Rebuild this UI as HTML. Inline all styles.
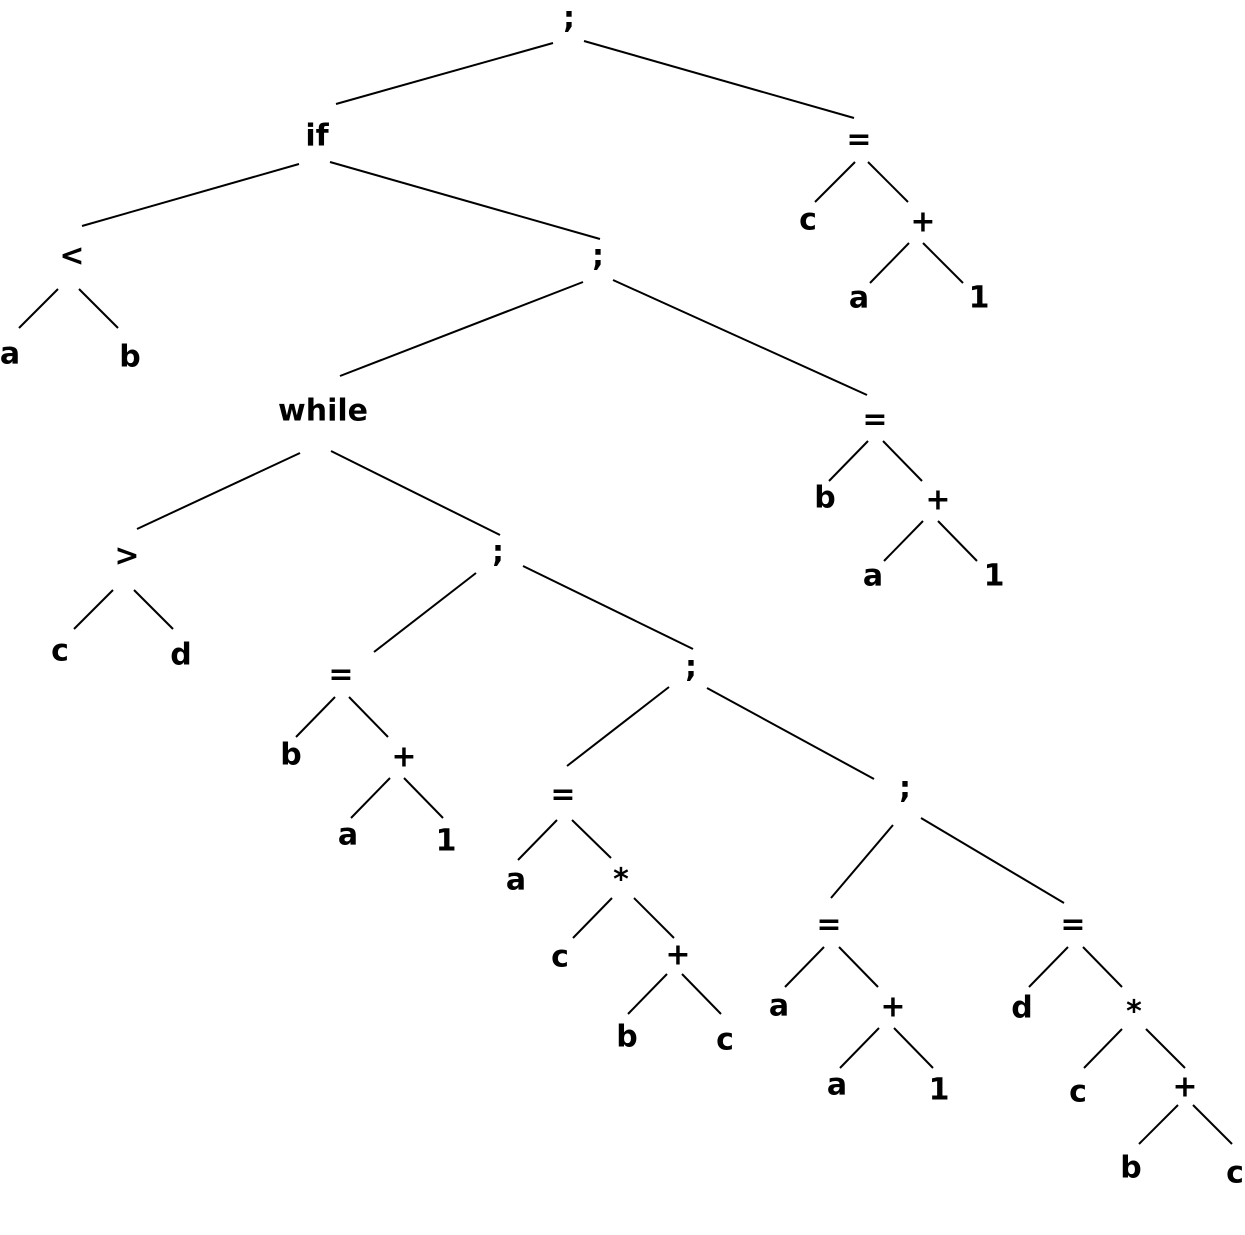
<!DOCTYPE html>
<html><head><meta charset="utf-8"><style>
html,body{margin:0;padding:0;background:#fff;}
svg{display:block;}
text{font-family:"DejaVu Sans","Liberation Sans",sans-serif;font-weight:bold;font-size:30px;fill:#000;}
line{stroke:#000;stroke-width:2;}
</style></head><body>
<svg width="1245" height="1235" viewBox="0 0 1245 1235" xmlns="http://www.w3.org/2000/svg">
<g>
<line x1="553" y1="43" x2="336" y2="104"/>
<line x1="584" y1="41" x2="854" y2="118"/>
<line x1="299" y1="164" x2="82" y2="226"/>
<line x1="330" y1="162" x2="600" y2="239"/>
<line x1="855" y1="162" x2="815" y2="202"/>
<line x1="868" y1="162" x2="908" y2="202"/>
<line x1="909" y1="243" x2="870" y2="283"/>
<line x1="923" y1="243" x2="963" y2="283"/>
<line x1="58" y1="289" x2="19" y2="328"/>
<line x1="79" y1="289" x2="118" y2="328"/>
<line x1="583" y1="282" x2="340" y2="376"/>
<line x1="613" y1="280" x2="867" y2="395"/>
<line x1="300" y1="453" x2="137" y2="529"/>
<line x1="331" y1="451" x2="500" y2="535"/>
<line x1="868" y1="441" x2="829" y2="481"/>
<line x1="883" y1="441" x2="922" y2="481"/>
<line x1="923" y1="521" x2="884" y2="561"/>
<line x1="938" y1="521" x2="977" y2="561"/>
<line x1="113" y1="590" x2="74" y2="629"/>
<line x1="134" y1="590" x2="173" y2="629"/>
<line x1="476" y1="573" x2="374" y2="652"/>
<line x1="523" y1="566" x2="693" y2="649"/>
<line x1="335" y1="697" x2="296" y2="737"/>
<line x1="349" y1="697" x2="388" y2="737"/>
<line x1="390" y1="778" x2="351" y2="818"/>
<line x1="404" y1="778" x2="443" y2="818"/>
<line x1="669" y1="687" x2="567" y2="766"/>
<line x1="707" y1="688" x2="874" y2="779"/>
<line x1="557" y1="820" x2="518" y2="860"/>
<line x1="572" y1="820" x2="611" y2="858"/>
<line x1="612" y1="898" x2="573" y2="938"/>
<line x1="634" y1="898" x2="674" y2="938"/>
<line x1="667" y1="974" x2="628" y2="1014"/>
<line x1="682" y1="974" x2="721" y2="1014"/>
<line x1="893" y1="825" x2="831" y2="898"/>
<line x1="921" y1="818" x2="1064" y2="903"/>
<line x1="824" y1="947" x2="785" y2="987"/>
<line x1="839" y1="947" x2="878" y2="987"/>
<line x1="879" y1="1028" x2="840" y2="1068"/>
<line x1="894" y1="1028" x2="933" y2="1068"/>
<line x1="1068" y1="947" x2="1029" y2="987"/>
<line x1="1083" y1="947" x2="1122" y2="987"/>
<line x1="1122" y1="1029" x2="1084" y2="1068"/>
<line x1="1146" y1="1029" x2="1185" y2="1068"/>
<line x1="1178" y1="1105" x2="1139" y2="1144"/>
<line x1="1193" y1="1105" x2="1232" y2="1144"/>
</g>
<g text-anchor="middle" dominant-baseline="central">
<text x="569" y="18">;</text>
<text x="317" y="136">if</text>
<text x="859" y="140">=</text>
<text x="808" y="220">c</text>
<text x="923" y="222">+</text>
<text x="859" y="298">a</text>
<text x="979" y="298">1</text>
<text x="72" y="256">&lt;</text>
<text x="10" y="354">a</text>
<text x="130" y="357">b</text>
<text x="598" y="256">;</text>
<text x="323" y="411">while</text>
<text x="875" y="420">=</text>
<text x="825" y="498">b</text>
<text x="938" y="500">+</text>
<text x="873" y="576">a</text>
<text x="994" y="576">1</text>
<text x="127" y="556">&gt;</text>
<text x="60" y="651">c</text>
<text x="181" y="655">d</text>
<text x="498" y="552">;</text>
<text x="341" y="675">=</text>
<text x="291" y="755">b</text>
<text x="404" y="757">+</text>
<text x="348" y="835">a</text>
<text x="446" y="841">1</text>
<text x="691" y="667">;</text>
<text x="563" y="795">=</text>
<text x="516" y="880">a</text>
<text x="621" y="880">*</text>
<text x="560" y="957">c</text>
<text x="678" y="955">+</text>
<text x="627" y="1037">b</text>
<text x="725" y="1040">c</text>
<text x="905" y="788">;</text>
<text x="829" y="925">=</text>
<text x="779" y="1006">a</text>
<text x="893" y="1007">+</text>
<text x="837" y="1085">a</text>
<text x="939" y="1090">1</text>
<text x="1073" y="925">=</text>
<text x="1022" y="1008">d</text>
<text x="1134" y="1012">*</text>
<text x="1078" y="1092">c</text>
<text x="1185" y="1087">+</text>
<text x="1131" y="1168">b</text>
<text x="1235" y="1173">c</text>
</g>
</svg>
</body></html>
